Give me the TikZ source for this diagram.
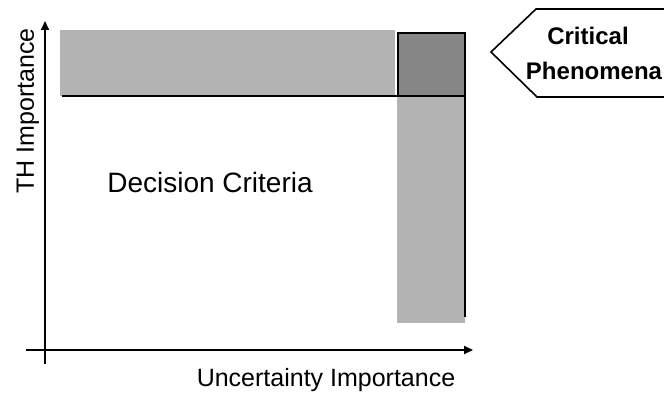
\documentclass[tikz,border=0pt]{standalone}
\usepackage{fontspec}
\setmainfont{Liberation Sans}
\usetikzlibrary{arrows.meta, positioning}
\definecolor{barfill}{RGB}{179,179,179}
\definecolor{corefill}{RGB}{134,134,134}
\tikzset{
    axis/.style={-{Triangle[length=9pt, width=8pt]}, line width=2pt},
    shadeband/.style={fill=barfill},
    borderline/.style={line width=1.6pt},
    textlabel/.style={inner sep=0pt, anchor=base, font=\fontsize{25}{30}\selectfont}
}

\begin{document}
\begin{tikzpicture}[x=1pt, y=-1pt]
    \useasboundingbox (0,0) rectangle (664,398);
    % Axis end points
    \coordinate (ybot) at (45,364);
    \coordinate (ytop) at (45,21);
    \coordinate (xleft) at (26,350);
    \coordinate (xright) at (473,350);
    % Shaded bands
    \fill[shadeband] (60,30) rectangle (395,96);
    \fill[shadeband] (397,96) rectangle (465,323);
    % Overlap square
    \filldraw[fill=corefill, borderline] (398,33) rectangle (465,96);
    % Dividing lines
    \draw[borderline] (62,96) -- (465,96);
    \draw[borderline] (465,96) -- (465,317);
    % Axes
    \draw[axis] (ybot) -- (ytop);
    \draw[axis] (xleft) -- (xright);
    % Callout outline
    \draw[borderline] (664,9) -- (536,9) -- (491,52) -- (537,97) -- (664,97);
    % Labels
    \node[textlabel, rotate=90] (thlabel) at (34,111) {TH Importance};
    \node[textlabel] (unclabel) at (326,386) {Uncertainty Importance};
    \node[textlabel, font=\fontsize{28}{32}\selectfont] (declabel) at (210,193) {Decision Criteria};
    \node[textlabel, font=\bfseries\fontsize{24}{28}\selectfont] (critlabel) at (588,45) {Critical};
    \node[textlabel, font=\bfseries\fontsize{24}{28}\selectfont] (phenlabel) at (594,80) {Phenomena};
\end{tikzpicture}
\end{document}
